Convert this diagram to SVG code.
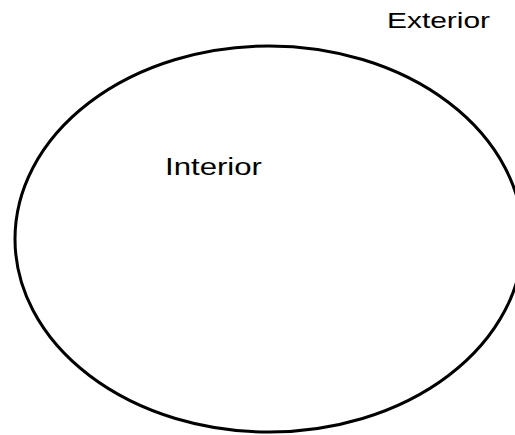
<svg xmlns="http://www.w3.org/2000/svg" width="515" height="435" viewBox="0 0 515 435">
<style>
.lbl{font-family:"Liberation Sans",Arial,sans-serif;fill:#000}
.shape{fill:none;stroke:#000;stroke-width:3}
</style>
<rect width="515" height="435" fill="#fff"/>
<g id="boundary"><ellipse class="shape" cx="269" cy="239" rx="254" ry="193"/></g>
<g id="interior"><text class="lbl" x="165" y="175" font-size="23" textLength="97" lengthAdjust="spacingAndGlyphs">Interior</text></g>
<g id="exterior"><text class="lbl" x="387" y="28" font-size="22" textLength="103" lengthAdjust="spacingAndGlyphs">Exterior</text></g>
<g id="connectors"/>
</svg>
